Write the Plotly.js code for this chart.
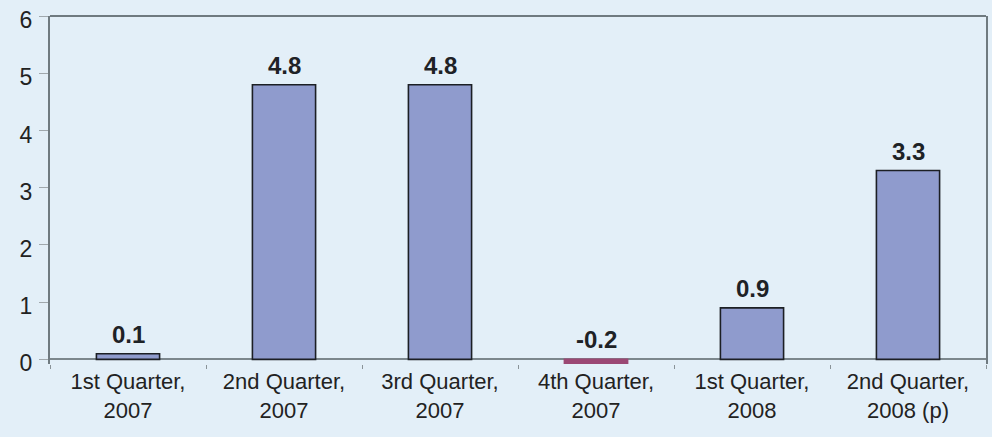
<!DOCTYPE html>
<html>
<head>
<meta charset="utf-8">
<script src="https://cdn.plot.ly/plotly-3.0.1.min.js"></script>
<style>html,body{margin:0;padding:0;background:#e3eff8;}#chart{width:992px;height:437px;}</style>
</head>
<body>
<div id="chart"></div>
<script>
const categories = ["1st Quarter,<br>2007", "2nd Quarter,<br>2007", "3rd Quarter,<br>2007", "4th Quarter,<br>2007", "1st Quarter,<br>2008", "2nd Quarter,<br>2008 (p)"];
const values = [0.1, 4.8, 4.8, -0.2, 0.9, 3.3];
const labels = ["0.1", "4.8", "4.8", "-0.2", "0.9", "3.3"];
const yTicks = [0, 1, 2, 3, 4, 5, 6];

const colors = values.map(v => v < 0 ? "#9b4874" : "#8f9bcd");
const lineColors = values.map(v => v < 0 ? "#9b4874" : "#1c1f24");

const trace = {
  type: "bar",
  x: categories,
  y: values,
  width: 0.405,
  marker: { color: colors, line: { color: lineColors, width: 1.6 } },
  hoverinfo: "skip"
};

const annotations = values.map((v, i) => ({
  x: categories[i],
  y: Math.max(v, 0),
  text: "<b>" + labels[i] + "</b>",
  showarrow: false,
  yanchor: "bottom",
  yshift: 4,
  font: { family: "Liberation Sans, Arial, sans-serif", size: 24, color: "#1e2226" }
}));

const layout = {
  width: 992, height: 437,
  margin: { l: 50, r: 6, t: 16, b: 73 },
  paper_bgcolor: "#e3eff8",
  plot_bgcolor: "#e3eff8",
  showlegend: false,
  font: { family: "Liberation Sans, Arial, sans-serif", color: "#222" },
  xaxis: {
    type: "category",
    tickson: "boundaries",
    ticks: "outside",
    ticklen: 4,
    tickcolor: "#8a9398",
    showline: false,
    showgrid: false,
    zeroline: false,
    tickfont: { size: 22, color: "#222" },
    ticklabelstandoff: 2,
    fixedrange: true
  },
  yaxis: {
    range: [-0.08, 6],
    tickvals: yTicks,
    ticktext: yTicks.map(String),
    ticks: "outside",
    ticklen: 9,
    tickcolor: "#a0a8ad",
    ticklabelstandoff: 2,
    ticklabelshift: 4,
    showline: true,
    linecolor: "#6f7a80",
    linewidth: 2,
    mirror: true,
    showgrid: false,
    zeroline: true,
    zerolinecolor: "#7c878d",
    zerolinewidth: 2,
    tickfont: { size: 23, color: "#222" },
    fixedrange: true
  },
  shapes: [{
    type: "line", xref: "paper", yref: "paper",
    x0: 0, x1: 1, y0: 1, y1: 1,
    line: { color: "#6f7a80", width: 2 }
  }],
  annotations: annotations
};

Plotly.newPlot("chart", [trace], layout, { displayModeBar: false, staticPlot: true });
</script>
</body>
</html>
